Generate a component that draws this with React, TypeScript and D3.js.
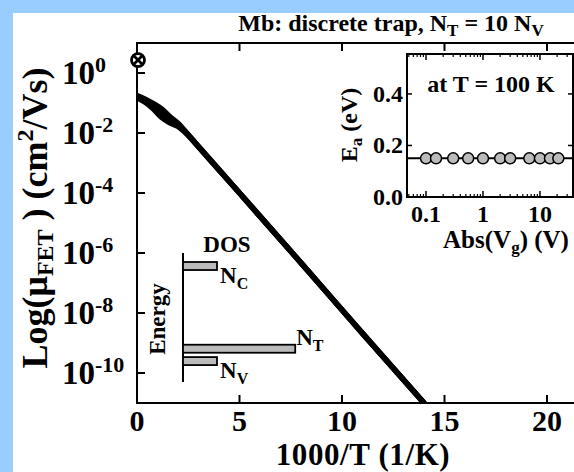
import React from 'react';
import * as d3 from 'd3';

// main panel: mobility vs 1000/T (a few gate voltages, they only split near 0)
const invT = [0, 0.4, 0.8, 1.2, 1.6, 2.0, 2.5, 3, 5, 8, 11, 14.5];
const muUpper = [0.178, 0.135, 0.095, 0.063, 0.035, 0.021, 8.5e-3, 3.5e-3, 1e-4, 4.7e-7, 2.1e-9, 4.1e-12];
const muMiddle = [0.166, 0.12, 0.079, 0.048, 0.028, 0.019, 8.9e-3, 3.5e-3, 1e-4, 4.7e-7, 2.1e-9, 4.1e-12];
const muLower = [0.151, 0.105, 0.063, 0.033, 0.022, 0.0166, 8.3e-3, 3.5e-3, 1e-4, 4.7e-7, 2.1e-9, 4.1e-12];
const markerInvT = 0;
const markerMu = 2.7;

const xTicks = [0, 5, 10, 15, 20];
const yTicks = [1e0, 1e-2, 1e-4, 1e-6, 1e-8, 1e-10];
const yTickExp = ['0', '-2', '-4', '-6', '-8', '-10'];

// inset: activation energy vs |Vg|
const vg = [0.1, 0.15, 0.3, 0.55, 1, 2, 3, 6.5, 10, 15, 21];
const ea = [0.15, 0.15, 0.15, 0.15, 0.15, 0.15, 0.15, 0.15, 0.15, 0.15, 0.15];
const eaLine = 0.15;
const insetXTicks = [0.1, 1, 10];
const insetXLabels = ['0.1', '1', '10'];
const insetYTicks = [0, 0.2, 0.4];
const insetYLabels = ['0.0', '0.2', '0.4'];

// DOS sketch
const dosNames = ['C', 'T', 'V'];
const dosEnergy = [1.0, 0.13, 0];
const dosSize = [1, 3.3, 1];

const serif = "'Liberation Serif', 'Times New Roman', Times, serif";
const blue = '#99ccff';
const grey = '#bbbbbb';

export default function App() {
  const W = 574, H = 472;
  const x = d3.scaleLinear().domain([0, 22]).range([137, 588]);
  const y = d3.scaleLog().domain([1e-11, 10]).range([403, 43]);

  const line = d3.line<number>()
    .x((_, i) => x(invT[i]))
    .y(d => y(d))
    .curve(d3.curveMonotoneX);

  const ix = d3.scaleLog().domain([0.0464, 38]).range([407, 573]);
  const iy = d3.scaleLinear().domain([0, 0.555]).range([197, 54]);
  const minor = ix.ticks().filter(t => !insetXTicks.includes(t));

  const ey = d3.scaleLinear().domain([-0.22, 1.137]).range([382, 253]);
  const ex = d3.scaleLinear().domain([0, 1]).range([183, 217]);

  const mx = x(markerInvT), my = y(markerMu);

  return (
    <svg width={W} height={H} style={{ position: 'absolute', left: 0, top: 0, fontFamily: serif, fontWeight: 'bold' }}>
      <rect width={W} height={H} fill={blue} />
      <rect x={13} y={13} width={W - 13} height={H - 13} fill="white" />

      <text x={391} y={31} fontSize={24} textAnchor="middle">
        Mb: discrete trap, N<tspan fontSize={17} dy={5}>T</tspan>
        <tspan dy={-5}> = 10 N</tspan><tspan fontSize={17} dy={5}>V</tspan>
      </text>

      {/* main frame */}
      <path d={`M${x(22)},${y(10)}H${x(0)}V${y(1e-11)}H${x(22)}`} fill="none" stroke="black" strokeWidth={2} />
      {xTicks.map(t => (
        <g key={'xt' + t}>
          {t > 0 && <line x1={x(t)} x2={x(t)} y1={y(1e-11)} y2={y(1e-11) - 8} stroke="black" strokeWidth={2} />}
          {t > 0 && <line x1={x(t)} x2={x(t)} y1={y(10)} y2={y(10) + 8} stroke="black" strokeWidth={2} />}
          <text x={x(t)} y={431} fontSize={30} textAnchor="middle">{t}</text>
        </g>
      ))}
      {yTicks.map((t, i) => (
        <g key={'yt' + i}>
          <line x1={x(0)} x2={x(0) + 8} y1={y(t)} y2={y(t)} stroke="black" strokeWidth={2} />
          <text x={62} y={y(t) + 11} fontSize={33}>
            10<tspan fontSize={22} dy={-12}>{yTickExp[i]}</tspan>
          </text>
        </g>
      ))}
      <text x={363} y={465.2} fontSize={31} letterSpacing={0.6} textAnchor="middle">1000/T (1/K)</text>
      <text transform="translate(47,218) rotate(-90)" fontSize={36} textAnchor="middle">
        Log(μ<tspan fontSize={24} dy={6}>FET</tspan><tspan dy={-6}> ) (cm</tspan>
        <tspan fontSize={24} dy={-14}>2</tspan><tspan dy={14}>/Vs)</tspan>
      </text>

      {/* mobility curves */}
      <clipPath id="plotClip">
        <rect x={x(0)} y={y(10)} width={x(22) - x(0)} height={y(1e-11) - y(10)} />
      </clipPath>
      <g clipPath="url(#plotClip)">
        {[muUpper, muMiddle, muLower].map((s, i) => (
          <path key={'c' + i} d={line(s) ?? ''} fill="none" stroke="black" strokeWidth={5.5} strokeLinecap="round" />
        ))}
      </g>
      <g transform={`translate(${mx + 1},${my})`}>
        <circle r={6.5} fill="white" stroke="black" strokeWidth={2.8} />
        <path d="M-5,-5L5,5M-5,5L5,-5" stroke="black" strokeWidth={2.8} />
      </g>

      {/* inset */}
      <rect x={ix.range()[0]} y={iy.range()[1]} width={ix.range()[1] - ix.range()[0]}
        height={iy.range()[0] - iy.range()[1]} fill="white" stroke="black" strokeWidth={2} />
      {insetXTicks.map((t, i) => (
        <g key={'ixt' + t}>
          <line x1={ix(t)} x2={ix(t)} y1={197} y2={191} stroke="black" strokeWidth={1.5} />
          <line x1={ix(t)} x2={ix(t)} y1={54} y2={60} stroke="black" strokeWidth={1.5} />
          <text x={ix(t)} y={222} fontSize={24} textAnchor="middle">{insetXLabels[i]}</text>
        </g>
      ))}
      {minor.map(t => (
        <g key={'im' + t}>
          <line x1={ix(t)} x2={ix(t)} y1={197} y2={194} stroke="black" strokeWidth={1.2} />
          <line x1={ix(t)} x2={ix(t)} y1={54} y2={57} stroke="black" strokeWidth={1.2} />
        </g>
      ))}
      {insetYTicks.map((t, i) => (
        <g key={'iyt' + t}>
          <line x1={407} x2={412} y1={iy(t)} y2={iy(t)} stroke="black" strokeWidth={1.5} />
          <line x1={573} x2={568} y1={iy(t)} y2={iy(t)} stroke="black" strokeWidth={1.5} />
          <text x={403} y={iy(t) + 8} fontSize={24} textAnchor="end">{insetYLabels[i]}</text>
        </g>
      ))}
      <line x1={407} x2={573} y1={iy(eaLine)} y2={iy(eaLine)} stroke="black" strokeWidth={2} />
      {vg.map((v, i) => (
        <circle key={'p' + i} cx={ix(v)} cy={iy(ea[i])} r={5.5} fill={grey} stroke="black" strokeWidth={1.5} />
      ))}
      <text x={491} y={92} fontSize={24} textAnchor="middle">at T = 100 K</text>
      <text x={506} y={248} fontSize={25} textAnchor="middle">
        Abs(V<tspan fontSize={17} dy={5}>g</tspan><tspan dy={-5}>) (V)</tspan>
      </text>
      <text transform="translate(357,125) rotate(-90)" fontSize={24} textAnchor="middle">
        E<tspan fontSize={17} dy={5}>a</tspan><tspan dy={-5}> (eV)</tspan>
      </text>

      {/* DOS sketch */}
      <text x={227} y={252} fontSize={23} textAnchor="middle">DOS</text>
      <line x1={ex(0)} x2={ex(0)} y1={ey.range()[0]} y2={ey.range()[1]} stroke="black" strokeWidth={2} />
      <text transform="translate(165,319) rotate(-90)" fontSize={23} textAnchor="middle">Energy</text>
      {dosNames.map((n, i) => {
        const cy = ey(dosEnergy[i]);
        const side = n === 'T';
        return (
          <g key={'dos' + n}>
            <rect x={ex(0)} y={cy - 4} width={ex(dosSize[i]) - ex(0)} height={8} fill={grey} stroke="black" strokeWidth={1.8} />
            <text x={ex(dosSize[i]) + (side ? 1 : 3)} y={side ? cy - 4 : cy + 17} fontSize={23}>
              N<tspan fontSize={16} dy={6}>{n}</tspan>
            </text>
          </g>
        );
      })}
    </svg>
  );
}
